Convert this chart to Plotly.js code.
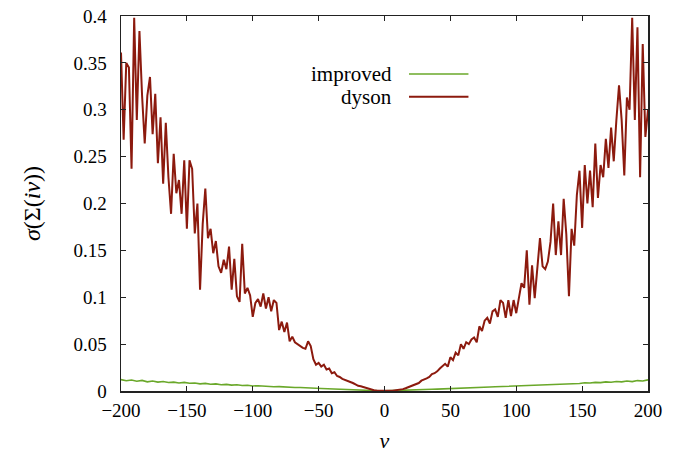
<!DOCTYPE html>
<html>
<head>
<meta charset="utf-8">
<script src="https://cdn.plot.ly/plotly-3.0.1.min.js"></script>
<style>html,body{margin:0;padding:0;background:#fff;}#chart{width:689px;height:457px;}</style>
</head>
<body>
<div id="chart"></div>
<script>
// Series names
const seriesNames = ["improved", "dyson"];

// dyson: nu from -200 to 200, step 2
const dysonStart = -200;
const dysonStep = 2;
const dysonValues = [
  0.361,0.268,0.350,0.345,0.237,0.398,0.289,0.384,0.315,0.264,
  0.315,0.335,0.274,0.317,0.243,0.292,0.221,0.286,0.228,0.189,
  0.253,0.211,0.225,0.189,0.246,0.173,0.246,0.237,0.168,0.200,
  0.108,0.178,0.216,0.163,0.173,0.147,0.160,0.133,0.126,0.140,
  0.130,0.154,0.108,0.141,0.101,0.095,0.157,0.104,0.110,0.102,
  0.079,0.094,0.098,0.090,0.104,0.088,0.100,0.085,0.097,0.094,
  0.065,0.074,0.063,0.073,0.053,0.058,0.052,0.050,0.048,0.046,
  0.045,0.053,0.048,0.034,0.028,0.030,0.026,0.028,0.023,0.024,
  0.019,0.020,0.016,0.015,0.013,0.012,0.011,0.010,0.0085,0.007,
  0.0055,0.005,0.004,0.003,0.002,0.0012,0.0008,0.0005,0.0003,0.0001,
  0.0,
  0.0001,0.0002,0.0004,0.0006,0.001,0.0015,0.002,0.003,0.004,0.005,
  0.0065,0.0075,0.0085,0.011,0.012,0.0135,0.015,0.018,0.019,0.021,
  0.024,0.027,0.029,0.026,0.036,0.033,0.041,0.038,0.050,0.045,
  0.052,0.050,0.055,0.057,0.052,0.069,0.064,0.075,0.078,0.072,
  0.085,0.087,0.079,0.097,0.094,0.078,0.097,0.080,0.097,0.083,
  0.101,0.115,0.110,0.150,0.092,0.134,0.099,0.131,0.163,0.133,
  0.130,0.138,0.159,0.200,0.145,0.181,0.145,0.205,0.167,0.101,
  0.173,0.155,0.209,0.235,0.174,0.241,0.200,0.235,0.196,0.264,
  0.206,0.241,0.228,0.269,0.238,0.281,0.245,0.289,0.326,0.289,
  0.230,0.313,0.300,0.398,0.289,0.388,0.228,0.370,0.271,0.300
];

// improved: nu from -200 to 200, step 4
const improvedStart = -200;
const improvedStep = 4;
const improvedValues = [
  0.0122,0.0110,0.0118,0.0104,0.0113,0.0098,0.0107,0.0095,0.0102,0.0090,
  0.0095,0.0086,0.0092,0.0082,0.0086,0.0076,0.0081,0.0072,0.0076,0.0067,
  0.0071,0.0063,0.0066,0.0058,0.0061,0.0054,0.0056,0.0050,0.0052,0.0046,
  0.0047,0.0042,0.0043,0.0037,0.0038,0.0033,0.0032,0.0029,0.0027,0.0024,
  0.0022,0.0019,0.0017,0.0014,0.0012,0.0010,0.0008,0.0006,0.0004,0.0002,
  0.0001,
  0.0002,0.0004,0.0006,0.0008,0.0010,0.0012,0.0013,0.0016,0.0018,0.0020,
  0.0023,0.0025,0.0027,0.0030,0.0031,0.0034,0.0036,0.0039,0.0040,0.0043,
  0.0045,0.0047,0.0050,0.0051,0.0054,0.0057,0.0058,0.0062,0.0064,0.0066,
  0.0069,0.0072,0.0070,0.0077,0.0078,0.0083,0.0080,0.0088,0.0085,0.0092,
  0.0089,0.0097,0.0093,0.0101,0.0097,0.0106,0.0100,0.0111,0.0106,0.0119
];

const colImproved = "#6aa82a";
const colDyson = "#8c1a0e";
const fontFam = "'Liberation Serif', 'DejaVu Serif', serif";
const axisCol = "#222";

const traces = [
  {type: "scatter", mode: "lines", name: seriesNames[0],
   x0: improvedStart, dx: improvedStep, y: improvedValues,
   line: {color: colImproved, width: 1.6}, showlegend: false},
  {type: "scatter", mode: "lines", name: seriesNames[1],
   x0: dysonStart, dx: dysonStep, y: dysonValues,
   line: {color: colDyson, width: 2}, showlegend: false}
];

const axisCommon = {
  showline: true, linecolor: axisCol, linewidth: 1.5, mirror: "ticks",
  ticks: "inside", ticklen: 5, tickwidth: 1, tickcolor: axisCol,
  showgrid: false, zeroline: false, fixedrange: true,
  tickfont: {family: fontFam, size: 19, color: "#000"}
};

const layout = {
  width: 689, height: 457,
  margin: {l: 121, r: 41, t: 16, b: 66},
  paper_bgcolor: "#fff", plot_bgcolor: "#fff",
  font: {family: fontFam, size: 19, color: "#000"},
  xaxis: Object.assign({}, axisCommon, {
    range: [-200, 200], dtick: 50, tick0: 0, ticklabelstandoff: 2,
    title: {text: "<i>ν</i>", font: {family: fontFam, size: 22}, standoff: 12}
  }),
  yaxis: Object.assign({}, axisCommon, {
    range: [0, 0.4], dtick: 0.05, tick0: 0, ticklabelstandoff: 9,
    title: {text: "<i>σ</i>(Σ(<i>iν</i>))", font: {family: fontFam, size: 24}, standoff: 26}
  }),
  annotations: [
    {xref: "paper", yref: "paper", x: 0.518, y: 0.8453, xanchor: "right", yanchor: "middle",
     text: seriesNames[0], showarrow: false, font: {family: fontFam, size: 21}},
    {xref: "paper", yref: "paper", x: 0.518, y: 0.7848, xanchor: "right", yanchor: "middle",
     text: seriesNames[1], showarrow: false, font: {family: fontFam, size: 21}}
  ],
  shapes: [
    {type: "line", xref: "paper", yref: "paper", x0: 0.5465, x1: 0.6593, y0: 0.8453, y1: 0.8453,
     line: {color: colImproved, width: 1.6}},
    {type: "line", xref: "paper", yref: "paper", x0: 0.5465, x1: 0.6593, y0: 0.7848, y1: 0.7848,
     line: {color: colDyson, width: 2}}
  ]
};

Plotly.newPlot("chart", traces, layout, {displayModeBar: false, staticPlot: true});
</script>
</body>
</html>
